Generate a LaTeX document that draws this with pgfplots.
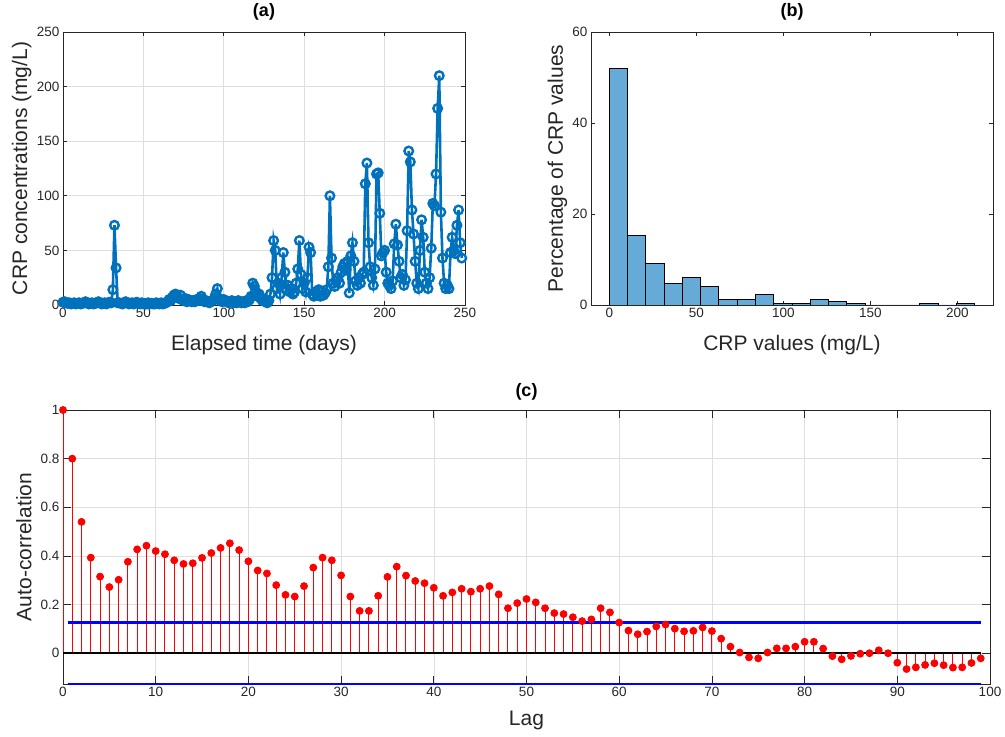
\documentclass[border=0pt]{standalone}
\usepackage{pgfplots}
\pgfplotsset{compat=1.18}
\usepackage{fontspec}
\setmainfont{Liberation Sans}
\definecolor{mblue}{HTML}{0072BD}
\definecolor{mhist}{HTML}{66AAD7}
\definecolor{axgray}{HTML}{262626}
\definecolor{gridgray}{HTML}{DFDFDF}
\pgfplotsset{
  mystyle/.style={
    scale only axis,
    axis line style={axgray, line width=0.8pt},
    every tick/.style={axgray, line width=0.8pt},
    tick label style={font=\fontsize{13.5}{15}\selectfont, color=axgray},
    /pgf/number format/assume math mode=true,
    label style={font=\fontsize{21}{24}\selectfont, color=axgray},
    title style={font=\bfseries\fontsize{18}{20}\selectfont, color=black},
    grid style={gridgray, line width=0.6pt},
    major tick length=4pt,
    scaled ticks=false,
  }
}
\begin{document}
\begin{tikzpicture}[x=1pt,y=1pt]
\useasboundingbox (0,0) rectangle (1005,737);
% ---------------- (a)
\begin{axis}[mystyle, at={(63pt,432pt)}, anchor=south west,
  width=402pt, height=273pt,
  xmin=0, xmax=250, ymin=0, ymax=250,
  xtick={0,50,100,150,200,250}, ytick={0,50,100,150,200,250},
  grid=major, clip=false,
  title={(a)}, title style={at={(axis description cs:0.5,1.035)}, anchor=base},
  xlabel={Elapsed time (days)},
  xlabel style={at={(axis description cs:0.5,-0.165)}, anchor=base},
  ylabel={CRP concentrations (mg/L)},
  ylabel style={at={(axis description cs:-0.089,0.5)}, anchor=base},
]
\addplot[mblue, line width=2.6pt, mark=o, mark size=4.3pt, mark options={line width=2.4pt}] coordinates {
(0,2.5)(1,3)(2,2)(3,1.5)(4,2)(5,1)(6,1.5)(7,2)(8,1)(9,1.5)(10,2)(11,1)(12,1.5)(13,2)(14,3)(15,2)(16,1)(17,1.5)(18,2)(19,1)(20,1.5)(21,2)(22,3)(23,2)(24,1)(25,1.5)(26,2)(27,1)(28,2)(29,2.5)(30,2)
(31,14)(32,73)(33,34)(34,2)
(35,2)(36,1.5)(37,1)(38,2)(39,3)(40,2)(41,1)(42,1.5)(43,2)(44,1)(45,2)(46,2.5)(47,1.5)(48,1)(49,2)(50,1)(51,1.5)(52,1)(53,2)(54,1)(55,1.5)(56,1)(57,1)(58,2)(59,1.5)(60,1)(61,2)(62,1)(63,1.5)(64,2)
(65,3)(66,5)(67,4)(68,7)(69,9)(70,10)(71,8)(72,6)(73,9)(74,5)(75,4)(76,6)(77,3)(78,5)(79,4)(80,3)(81,4)(82,3)(83,5)(84,4)(85,6)(86,8)(87,5)(88,3)(89,4)(90,3)(91,2)(92,3)(93,4)(94,6)(95,10)(96,15)(97,6)(98,4)(99,3)
(100,5)(101,4)(102,3)(103,2)(104,3)(105,4)(106,2)(107,3)(108,2)(109,4)(110,3)(111,2)(112,3)(113,2)(114,4)(115,3)(116,5)(117,8)(118,20)(119,17)(120,12)(121,8)(122,10)(123,6)(124,4)(125,5)(126,3)(127,2)(128,4)(129,10)
(130,25)(131,59)(132,50)(133,15)(134,20)(135,10)(136,25)(137,48)(138,30)(139,14)(140,18)(141,12)(142,15)(143,10)(144,12)(145,20)(146,33)(147,59)(148,28)(149,15)
(150,20)(151,12)(152,25)(153,53)(154,48)(155,10)(156,8)(157,12)(158,10)(159,14)(160,8)(161,12)(162,9)(163,11)(164,14)(165,35)(166,100)(167,43)(168,20)(169,17)
(170,22)(171,25)(172,20)(173,30)(174,35)(175,38)(176,32)(177,40)(178,11)(179,45)(180,57)(181,40)(182,22)(183,18)(184,25)(185,20)(186,28)(187,30)(188,111)(189,130)
(190,57)(191,35)(192,25)(193,18)(194,33)(195,120)(196,121)(197,84)(198,45)(199,48)(200,50)(201,30)(202,20)(203,18)(204,15)(205,22)(206,56)(207,74)(208,55)(209,40)
(210,25)(211,28)(212,18)(213,23)(214,68)(215,141)(216,131)(217,87)(218,65)(219,40)(220,20)(221,15)(222,50)(223,78)(224,62)(225,30)(226,20)(227,15)(228,25)(229,52)
(230,93)(231,91)(232,120)(233,180)(234,210)(235,85)(236,43)(237,20)(238,15)(239,18)(240,15)(241,48)(242,62)(243,50)(244,47)(245,73)(246,87)(247,57)(248,43)
};
\end{axis}
% ---------------- (b)
\begin{axis}[mystyle, at={(591pt,432pt)}, anchor=south west,
  width=402pt, height=273pt,
  xmin=-10.5, xmax=220.5, ymin=0, ymax=60,
  xtick={0,50,100,150,200}, ytick={0,20,40,60},
  title={(b)}, title style={at={(axis description cs:0.5,1.035)}, anchor=base},
  xlabel={CRP values (mg/L)},
  xlabel style={at={(axis description cs:0.5,-0.165)}, anchor=base},
  ylabel={Percentage of CRP values},
  ylabel style={at={(axis description cs:-0.070,0.5)}, anchor=base},
]
\addplot[ybar interval, fill=mhist, draw=black, line width=0.9pt] coordinates {
(0,52)(10.5,15.2)(21,9.2)(31.5,4.8)(42,6.0)(52.5,4.0)(63,1.2)(73.5,1.2)(84,2.4)(94.5,0.4)
(105,0.4)(115.5,1.2)(126,0.8)(136.5,0.4)(147,0)(157.5,0)(168,0)(178.5,0.4)(189,0)(199.5,0.4)(210,0.4)
};
\end{axis}
% ---------------- (c)
\begin{axis}[mystyle, at={(63pt,53pt)}, anchor=south west,
  width=927pt, height=274pt,
  xmin=0, xmax=100, ymin=-0.1265, ymax=1,
  xtick={0,10,20,30,40,50,60,70,80,90,100}, ytick={0,0.2,0.4,0.6,0.8,1},
  major tick length=8pt,
  grid=major, clip=false,
  title={(c)}, title style={at={(axis description cs:0.5,1.029)}, anchor=base},
  xlabel={Lag},
  xlabel style={at={(axis description cs:0.5,-0.150)}, anchor=base},
  ylabel={Auto-correlation},
  ylabel style={at={(axis description cs:-0.034,0.5)}, anchor=base},
]
\addplot[ycomb, red, line width=1pt, mark=*, mark size=3.4pt, mark options={fill=red, draw=red}] coordinates {
(0,1)(1,0.80)(2,0.54)(3,0.393)(4,0.315)(5,0.272)(6,0.302)(7,0.376)(8,0.427)(9,0.442)
(10,0.42)(11,0.407)(12,0.382)(13,0.367)(14,0.37)(15,0.392)(16,0.412)(17,0.433)(18,0.452)(19,0.424)
(20,0.378)(21,0.34)(22,0.328)(23,0.28)(24,0.24)(25,0.233)(26,0.276)(27,0.352)(28,0.393)(29,0.382)
(30,0.32)(31,0.233)(32,0.174)(33,0.174)(34,0.236)(35,0.314)(36,0.356)(37,0.319)(38,0.297)(39,0.288)
(40,0.269)(41,0.236)(42,0.25)(43,0.265)(44,0.253)(45,0.265)(46,0.276)(47,0.242)(48,0.185)(49,0.206)
(50,0.223)(51,0.209)(52,0.185)(53,0.165)(54,0.161)(55,0.148)(56,0.132)(57,0.139)(58,0.185)(59,0.168)
(60,0.126)(61,0.093)(62,0.078)(63,0.089)(64,0.11)(65,0.118)(66,0.101)(67,0.09)(68,0.092)(69,0.106)
(70,0.091)(71,0.06)(72,0.027)(73,0.003)(74,-0.017)(75,-0.021)(76,0.003)(77,0.02)(78,0.02)(79,0.027)
(80,0.047)(81,0.047)(82,0.019)(83,-0.012)(84,-0.025)(85,-0.011)(86,-0.002)(87,0)(88,0.012)(89,0)
(90,-0.039)(91,-0.065)(92,-0.058)(93,-0.048)(94,-0.041)(95,-0.049)(96,-0.059)(97,-0.058)(98,-0.04)(99,-0.021)
};
\addplot[black, line width=2.5pt] coordinates {(0,0)(99,0)};
\addplot[blue, line width=2.5pt] coordinates {(0.5,0.1265)(99,0.1265)};
\addplot[blue, line width=2.5pt] coordinates {(0.5,-0.1265)(99,-0.1265)};
\end{axis}
\end{tikzpicture}
\end{document}
